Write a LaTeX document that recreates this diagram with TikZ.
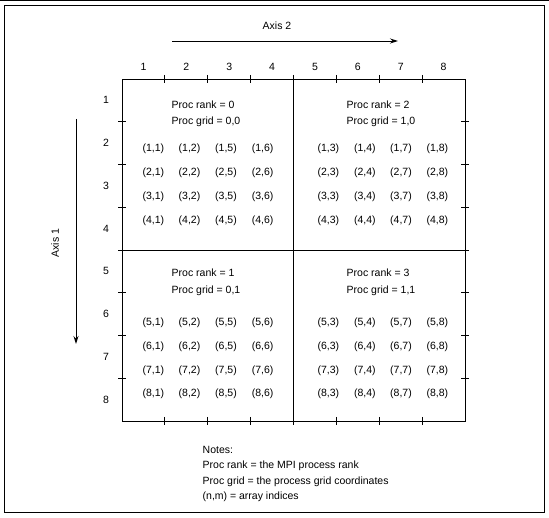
\documentclass[tikz,border=0pt]{standalone}
\usepackage{fontspec}
\setmainfont{Liberation Sans}
\usetikzlibrary{arrows.meta}
\begin{document}
\begin{tikzpicture}[x=1pt,y=-1pt,
  every node/.style={font=\fontsize{10.5}{12}\selectfont, inner sep=0pt},
  info/.style={anchor=west},
  frameline/.style={line width=0.9pt},
  tickline/.style={line width=0.8pt},
  axisarrow/.style={line width=0.9pt,-{Stealth[length=8pt,width=5pt]}}]
\useasboundingbox (0,0) rectangle (549,518);
% outer frame
\draw[line width=0.8pt] (0,0.5) -- (549,0.5);
\draw[frameline] (4,5) rectangle (544,512);
% axes
\node (ax2) at (277,26) {Axis 2};
\coordinate (ax2s) at (172,41);
\coordinate (ax2e) at (398,41);
\draw[axisarrow] (ax2s) -- (ax2e);
\node[rotate=90] (ax1) at (55,243) {Axis 1};
\coordinate (ax1s) at (76,119);
\coordinate (ax1e) at (76,344);
\draw[axisarrow] (ax1s) -- (ax1e);
% grid box
\coordinate (nw) at (122,79);
\coordinate (se) at (465,421);
\draw[frameline] (nw) rectangle (se);
\draw[frameline] (293.5,79) -- (293.5,421);
\draw[frameline] (122,250) -- (465,250);
% ticks
\foreach \i in {1,...,7} {
  \pgfmathsetmacro\tx{122+42.875*\i}
  \pgfmathsetmacro\ty{79+42.75*\i}
  \draw[tickline] (\tx,75) -- (\tx,83);
  \draw[tickline] (\tx,417) -- (\tx,425);
  \draw[tickline] (118,\ty) -- (126,\ty);
  \draw[tickline] (461,\ty) -- (469,\ty);
}
% index labels
\foreach \i in {1,...,8} {
  \pgfmathsetmacro\tx{122+42.875*(\i-0.5)}
  \pgfmathsetmacro\ty{79+42.75*(\i-0.5)}
  \node (col\i) at (\tx,66.5) {\i};
  \node (row\i) at (106,\ty) {\i};
}
% quadrant headers
\node[info] (r0) at (171.5,105) {Proc rank = 0};
\node[info] (g0) at (171.5,122) {Proc grid = 0,0};
\node[info] (r2) at (346.5,105) {Proc rank = 2};
\node[info] (g2) at (346.5,122) {Proc grid = 1,0};
\node[info] (r1) at (171.5,273) {Proc rank = 1};
\node[info] (g1) at (171.5,290.5) {Proc grid = 0,1};
\node[info] (r3) at (346.5,273) {Proc rank = 3};
\node[info] (g3) at (346.5,290.5) {Proc grid = 1,1};
% entries
\foreach \r/\y in {1/148.3,2/172.3,3/196.3,4/220.3,5/322.7,6/346.7,7/370.3,8/394} {
  \foreach \c/\x in {1/153.3,2/189.5,5/226,6/262.7,3/328.3,4/364.8,7/401,8/437.3} {
    \node (e\r\c) at (\x,\y) {(\r,\c)};
  }
}
% notes
\node[info] (n0) at (202.5,450) {Notes:};
\node[info] (n1) at (202.5,466) {Proc rank = the MPI process rank};
\node[info] (n2) at (202.5,481.5) {Proc grid = the process grid coordinates};
\node[info] (n3) at (202.5,497) {(n,m) = array indices};
\end{tikzpicture}
\end{document}
